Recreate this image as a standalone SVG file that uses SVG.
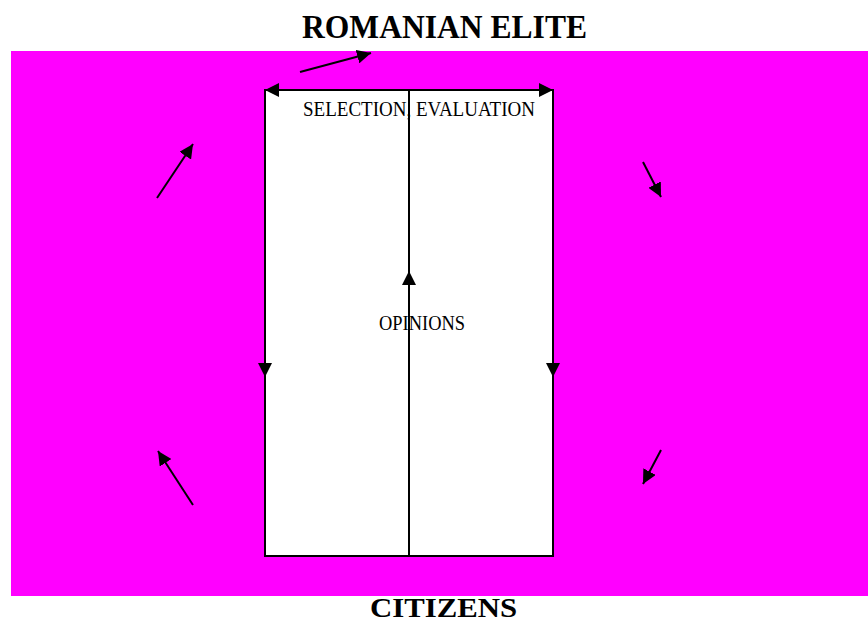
<svg xmlns="http://www.w3.org/2000/svg" width="868" height="625" viewBox="0 0 868 625">
<style>
.ln{stroke:#000;stroke-width:2;fill:none}
.t{font-family:"Liberation Serif","Times New Roman",serif;fill:#000}
.h{font-size:33px;font-weight:bold}
.c{font-size:28px;font-weight:bold}
.s{font-size:20px}
</style>
<defs>
<marker id="b" viewBox="0 0 10 10" refX="10" refY="5" markerWidth="14" markerHeight="14" orient="auto-start-reverse" markerUnits="userSpaceOnUse">
<path d="M0,0 L10,5 L0,10 z" fill="#000"/>
</marker>
</defs>
<rect x="0" y="0" width="868" height="625" fill="#fff"/>
<rect id="bg" x="11" y="51" width="857" height="545" fill="#ff00ff"/>
<g id="box">
<rect x="265" y="90" width="288" height="466" fill="#fff" stroke="#000" stroke-width="2"/>
</g>
<g id="connectors">
<line class="ln" x1="265" y1="90" x2="553" y2="90" marker-start="url(#b)" marker-end="url(#b)"/>
<line class="ln" x1="409" y1="556" x2="409" y2="90"/>
<line class="ln" x1="265" y1="90" x2="265" y2="377" marker-end="url(#b)"/>
<line class="ln" x1="553" y1="90" x2="553" y2="377" marker-end="url(#b)"/>
<line class="ln" x1="409" y1="400" x2="409" y2="271" marker-end="url(#b)"/>
<line class="ln" x1="300" y1="72" x2="371" y2="53" marker-end="url(#b)"/>
<line class="ln" x1="157" y1="198" x2="193" y2="144" marker-end="url(#b)"/>
<line class="ln" x1="643" y1="162" x2="661" y2="197" marker-end="url(#b)"/>
<line class="ln" x1="193" y1="505" x2="158" y2="451" marker-end="url(#b)"/>
<line class="ln" x1="661" y1="450" x2="643" y2="484" marker-end="url(#b)"/>
</g>
<g id="labels">
<text class="t h" x="302" y="38" textLength="285" lengthAdjust="spacingAndGlyphs">ROMANIAN ELITE</text>
<text class="t c" x="370" y="617" textLength="147" lengthAdjust="spacingAndGlyphs">CITIZENS</text>
<text class="t s" x="303" y="116" textLength="232" lengthAdjust="spacingAndGlyphs">SELECTION, EVALUATION</text>
<text class="t s" x="379" y="330" textLength="86" lengthAdjust="spacingAndGlyphs">OPINIONS</text>
</g>
</svg>
